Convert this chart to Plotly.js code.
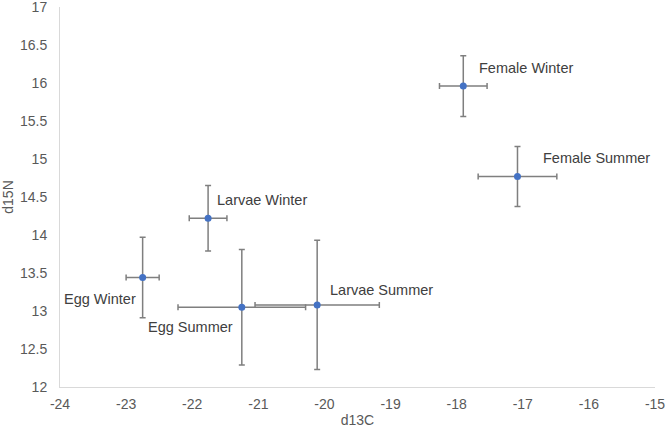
<!DOCTYPE html>
<html>
<head>
<meta charset="utf-8">
<script src="https://cdn.plot.ly/plotly-3.0.1.min.js"></script>
<style>html,body{margin:0;padding:0;background:#fff;}#chart{width:666px;height:432px;}</style>
</head>
<body>
<div id="chart"></div>
<script>
const labels = ["Female Winter", "Female Summer", "Larvae Winter", "Larvae Summer", "Egg Winter", "Egg Summer"];
const d13C = [-17.90, -17.08, -21.76, -20.11, -22.75, -21.25];
const d15N = [15.96, 14.77, 14.22, 13.08, 13.44, 13.05];
const d13C_err = [0.36, 0.595, 0.285, 0.94, 0.25, 0.965];
const d15N_err = [0.40, 0.395, 0.43, 0.85, 0.53, 0.76];
const xTicks = [-24, -23, -22, -21, -20, -19, -18, -17, -16, -15];
const yTicks = [12, 12.5, 13, 13.5, 14, 14.5, 15, 15.5, 16, 16.5, 17];

// label placement (pixel offsets)
const labelPos = {
  "Female Winter": {xanchor: "left", xshift: 14, yshift: 18},
  "Female Summer": {xanchor: "left", xshift: 24, yshift: 18},
  "Larvae Winter": {xanchor: "left", xshift: 7, yshift: 18},
  "Larvae Summer": {xanchor: "left", xshift: 11, yshift: 15},
  "Egg Winter": {xanchor: "right", xshift: -5, yshift: -21},
  "Egg Summer": {xanchor: "right", xshift: -7, yshift: -20}
};

const trace = {
  type: "scatter",
  mode: "markers",
  x: d13C,
  y: d15N,
  marker: {color: "#4472c4", size: 7},
  error_x: {type: "data", array: d13C_err, visible: true, color: "#7f7f7f", thickness: 1.5, width: 3},
  error_y: {type: "data", array: d15N_err, visible: true, color: "#7f7f7f", thickness: 1.5, width: 3},
  hoverinfo: "none"
};

const tickFont = {family: "Liberation Sans, Arial, sans-serif", size: 14, color: "#595959"};

const annotations = labels.map((t, i) => Object.assign({
  x: d13C[i], y: d15N[i], xref: "x", yref: "y", text: t, showarrow: false,
  yanchor: "middle", font: {family: "Liberation Sans, Arial, sans-serif", size: 14.5, color: "#404040"}
}, labelPos[t]));

const layout = {
  width: 666, height: 432,
  margin: {l: 60, r: 11, t: 7, b: 45},
  paper_bgcolor: "#ffffff", plot_bgcolor: "#ffffff",
  showlegend: false,
  xaxis: {
    range: [-24, -15], tickvals: xTicks, ticktext: xTicks.map(String),
    showgrid: false, zeroline: false, showline: true, linecolor: "#d9d9d9", linewidth: 1,
    ticks: "", tickfont: tickFont, ticklabelstandoff: 4, ticklabeloverflow: "allow",
    title: {text: "d13C", font: tickFont, standoff: 4}
  },
  yaxis: {
    range: [12, 17], tickvals: yTicks, ticktext: yTicks.map(String),
    showgrid: false, zeroline: false, showline: true, linecolor: "#d9d9d9", linewidth: 1,
    ticks: "", tickfont: tickFont, ticklabelstandoff: 9, ticklabeloverflow: "allow",
    title: {text: "d15N", font: tickFont, standoff: 4}
  },
  annotations: annotations
};

Plotly.newPlot("chart", [trace], layout, {displayModeBar: false, staticPlot: true});
</script>
</body>
</html>
